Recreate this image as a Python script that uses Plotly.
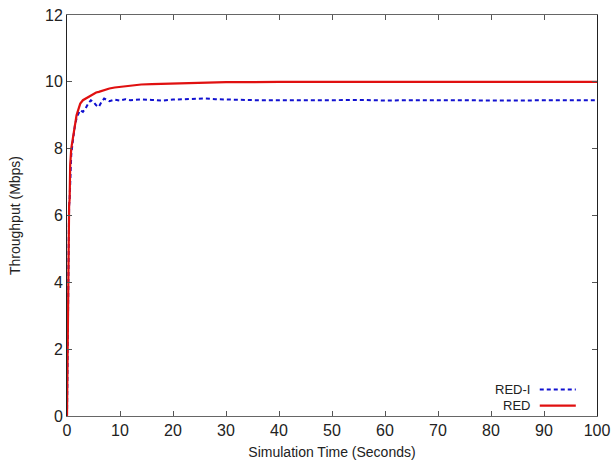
import plotly.graph_objects as go

# Data

time_s = [0, 0.1, 0.2, 0.3, 0.4, 0.5, 0.6, 0.8, 1.0, 1.2, 1.5, 1.8, 2.0, 2.5, 3.0, 3.5,
          4.0, 4.5, 5.0, 5.5, 6.0, 6.5, 7.0, 8, 9, 10, 11, 12, 14, 16, 18, 20, 22, 24,
          26, 28, 30, 33, 36, 40, 45, 50, 55, 60, 65, 70, 75, 80, 85, 90, 95, 100]

red = [0, 1.8, 5.0, 5.2, 6.3, 6.5, 7.5, 8.0, 8.2, 8.5, 8.8, 9.0, 9.1, 9.35, 9.45, 9.5,
       9.55, 9.6, 9.65, 9.68, 9.7, 9.73, 9.76, 9.8, 9.83, 9.85, 9.88, 9.9, 9.92, 9.93, 9.94,
       9.95, 9.96, 9.96, 9.97, 9.98, 9.99, 9.99, 10.0, 10.0, 10.0, 10.0, 10.0, 10.0, 10.01,
       10.0, 10.01, 10.0, 10.01, 10.0, 10.01, 10.0]

red_i = [0, 1.8, 5.0, 5.2, 6.3, 6.5, 7.3, 7.8, 8.1, 8.4, 8.7, 8.9, 9.0, 9.15, 9.1, 9.2,
         9.35, 9.45, 9.4, 9.3, 9.25, 9.4, 9.5, 9.42, 9.47, 9.44, 9.48, 9.45, 9.47, 9.46, 9.44,
         9.47, 9.48, 9.49, 9.5, 9.48, 9.47, 9.46, 9.45, 9.45, 9.44, 9.45, 9.46, 9.44, 9.45,
         9.46, 9.45, 9.44, 9.45, 9.46, 9.45, 9.45]

x_ticks = [0, 10, 20, 30, 40, 50, 60, 70, 80, 90, 100]
y_ticks = [0, 2, 4, 6, 8, 10, 12]

FONT = "Liberation Sans, Arial, sans-serif"
TEXT = "#222222"
BLUE_LINE = dict(color="#1010d0", width=2, dash="4px,3px")
RED_LINE = dict(color="#e01010", width=2.2)

fig = go.Figure()
fig.add_trace(go.Scatter(x=time_s, y=red_i, mode="lines", name="RED-I", line=BLUE_LINE))
fig.add_trace(go.Scatter(x=time_s, y=red, mode="lines", name="RED", line=RED_LINE))

fig.update_layout(
    width=611, height=462,
    margin=dict(l=67, r=14, t=15, b=46),
    paper_bgcolor="white", plot_bgcolor="white",
    showlegend=False,
    font=dict(family=FONT, color=TEXT),
)
fig.update_xaxes(range=[0, 100], tickvals=x_ticks, ticks="inside", ticklen=5,
                 tickcolor="#555555", showline=True, linecolor="#666666", linewidth=1,
                 mirror="ticks", showgrid=False, zeroline=False, automargin=False,
                 tickfont=dict(size=16, color=TEXT),
                 title=dict(text="Simulation Time (Seconds)", font=dict(size=14, color=TEXT), standoff=8))
fig.update_yaxes(range=[0, 12], tickvals=y_ticks, ticks="inside", ticklen=5,
                 tickcolor="#555555", showline=True, linecolor="#222222", linewidth=1,
                 mirror="ticks", showgrid=False, zeroline=False, automargin=False,
                 tickfont=dict(size=16, color=TEXT),
                 title=dict(text="Throughput (Mbps)", font=dict(size=14, color=TEXT), standoff=21))

# gnuplot-style key: text first, sample to the right
key = [("RED-I", BLUE_LINE, 0.066), ("RED", RED_LINE, 0.026)]
for label, line, yk in key:
    fig.add_annotation(xref="paper", yref="paper", x=0.878, y=yk, text=label,
                       showarrow=False, xanchor="right", yanchor="middle",
                       font=dict(size=13, color=TEXT))
    fig.add_shape(type="line", xref="paper", yref="paper", x0=0.892, x1=0.96,
                  y0=yk, y1=yk, line=line)

# drop the browser's default body margin so the figure sits at the window corner
fig.write_html("out.html", config={"displayModeBar": False},
               post_script="document.body.style.margin='0';")
